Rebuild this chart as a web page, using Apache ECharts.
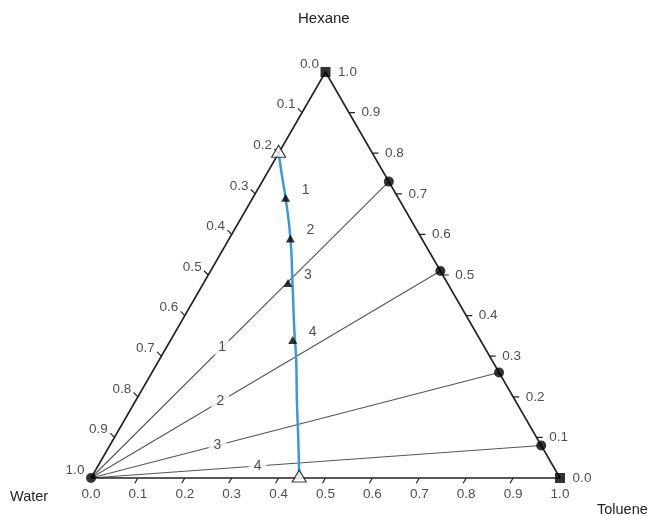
<!DOCTYPE html>
<html>
<head>
<meta charset="utf-8">
<script src="https://cdn.jsdelivr.net/npm/echarts@6/dist/echarts.min.js"></script>
<style>
  html, body { margin: 0; padding: 0; background: #fff; }
  #ternary { width: 655px; height: 516px; }
</style>
</head>
<body>
<div id="ternary"></div>
<script>
// tie lines: water-rich end is pure water, other end on hexane-toluene edge
var tieNames = ['1', '2', '3', '4'];
var tieHexane = [0.73, 0.51, 0.26, 0.08];
// filled triangles on the blue curve
var triHexane = [0.69, 0.59, 0.48, 0.34];
var triToluene = [0.07, 0.13, 0.18, 0.26];
// blue curve (hexane / toluene fractions)
var curveHexane = [0.800, 0.746, 0.685, 0.623, 0.562, 0.500, 0.438, 0.365, 0.291, 0.192, 0.094, 0.000];
var curveToluene = [0.000, 0.034, 0.073, 0.111, 0.146, 0.179, 0.212, 0.251, 0.292, 0.343, 0.395, 0.444];
// axis ticks
var tickValues = [0, 0.1, 0.2, 0.3, 0.4, 0.5, 0.6, 0.7, 0.8, 0.9, 1.0];
var tickLabels = ['0.0', '0.1', '0.2', '0.3', '0.4', '0.5', '0.6', '0.7', '0.8', '0.9', '1.0'];

var S = Math.sqrt(3) / 2;
// ternary (toluene, hexane) -> cartesian
function tp(tol, hex) {
  return [tol + hex / 2, hex * S];
}

var font = 'Liberation Sans, Arial, sans-serif';
var dark = '#222';

var myChart = echarts.init(document.getElementById('ternary'));

var series = [];

// frame
series.push({
  type: 'line',
  data: [tp(0, 0), tp(1, 0), tp(0, 1), tp(0, 0)],
  symbol: 'none',
  clip: false,
  lineStyle: { color: dark, width: 1.6 },
  z: 3
});

// tie lines
var labelFrac = [0.44, 0.37, 0.31, 0.37];
var tieLabels = [];
tieNames.forEach(function (n, i) {
  var a = tp(0, 0);
  var b = tp(1 - tieHexane[i], tieHexane[i]);
  series.push({
    type: 'line',
    data: [a, b],
    symbol: 'none',
    clip: false,
    lineStyle: { color: '#555', width: 1.1 },
    z: 2
  });
  var f = labelFrac[i];
  tieLabels.push({ name: n, value: [a[0] + (b[0] - a[0]) * f, a[1] + (b[1] - a[1]) * f] });
});
series.push({
  type: 'scatter',
  data: tieLabels,
  symbolSize: 0,
  clip: false,
  label: {
    show: true,
    position: 'inside',
    formatter: '{b}',
    fontFamily: font,
    fontSize: 14,
    color: dark,
    backgroundColor: '#fff',
    padding: [0, 5]
  },
  z: 4
});

// blue curve
series.push({
  type: 'line',
  data: curveHexane.map(function (h, i) { return tp(curveToluene[i], h); }),
  smooth: 0.4,
  symbol: 'none',
  clip: false,
  lineStyle: { color: '#3a9ad9', width: 2.5 },
  z: 5
});

// ticks
var tickData = [];
var tl = 0.013;
tickValues.forEach(function (v) {
  if (v > 0 && v < 1) {
    var p = tp(v, 0);
    tickData.push([p[0], p[1]], [p[0] - 0.5 * tl, p[1] - S * tl], '-');
    var q = tp(1 - v, v);
    tickData.push([q[0], q[1]], [q[0] + tl, q[1]], '-');
    var r = tp(0, 1 - v);
    tickData.push([r[0], r[1]], [r[0] - 0.7 * tl, r[1] + 0.7 * tl], '-');
  }
});
series.push({
  type: 'line',
  data: tickData,
  symbol: 'none',
  clip: false,
  connectNulls: false,
  lineStyle: { color: dark, width: 1.2 },
  z: 3
});

function tickLabelSeries(points, offset) {
  return {
    type: 'scatter',
    data: points,
    symbolSize: 0,
    clip: false,
    label: {
      show: true,
      position: 'inside',
      offset: offset,
      formatter: '{b}',
      fontFamily: font,
      fontSize: 13.5,
      color: dark
    },
    z: 4
  };
}
// bottom: toluene fraction
series.push(tickLabelSeries(tickValues.map(function (v, i) {
  return { name: tickLabels[i], value: tp(v, 0) };
}), [0, 16]));
// right: hexane fraction
series.push(tickLabelSeries(tickValues.map(function (v, i) {
  return { name: tickLabels[i], value: tp(1 - v, v) };
}), [22, 0]));
// left: water fraction
series.push(tickLabelSeries(tickValues.map(function (v, i) {
  return { name: tickLabels[i], value: tp(0, 1 - v) };
}), [-16, -8]));

// black circles: water vertex and hexane-rich tie line ends
series.push({
  type: 'scatter',
  data: [tp(0, 0)].concat(tieHexane.map(function (h) { return tp(1 - h, h); })),
  symbol: 'circle',
  symbolSize: 10,
  clip: false,
  itemStyle: { color: '#000' },
  z: 6
});
// squares on pure hexane / toluene
series.push({
  type: 'scatter',
  data: [tp(0, 1), tp(1, 0)],
  symbol: 'rect',
  symbolSize: 10,
  clip: false,
  itemStyle: { color: '#000' },
  z: 6
});
// open triangles at curve ends
var nC = curveHexane.length - 1;
series.push({
  type: 'scatter',
  data: [tp(curveToluene[0], curveHexane[0]), tp(curveToluene[nC], curveHexane[nC])],
  symbol: 'triangle',
  symbolSize: [14, 12],
  symbolOffset: [0, -2],
  clip: false,
  itemStyle: { color: '#fff', borderColor: '#111', borderWidth: 1.2 },
  z: 7
});
// filled triangles with labels
series.push({
  type: 'scatter',
  data: triHexane.map(function (h, i) {
    return { name: tieNames[i], value: tp(triToluene[i], h) };
  }),
  symbol: 'triangle',
  symbolSize: [9, 8],
  clip: false,
  itemStyle: { color: '#000' },
  label: {
    show: true,
    position: 'inside',
    offset: [20, -8],
    formatter: '{b}',
    fontFamily: font,
    fontSize: 14,
    color: dark
  },
  z: 7
});

var option = {
  backgroundColor: '#fff',
  animation: false,
  grid: { left: 91, right: 95, top: 72, bottom: 38 },
  xAxis: { type: 'value', min: 0, max: 1, show: false },
  yAxis: { type: 'value', min: 0, max: S, show: false },
  graphic: [
    { type: 'text', left: 298, top: 11, style: { text: 'Hexane', font: '15px ' + font, fill: dark } },
    { type: 'text', left: 10, top: 489, style: { text: 'Water', font: '14.5px ' + font, fill: dark } },
    { type: 'text', left: 597, top: 502, style: { text: 'Toluene', font: '14.5px ' + font, fill: dark } }
  ],
  series: series
};
option && myChart.setOption(option);
</script>
</body>
</html>
